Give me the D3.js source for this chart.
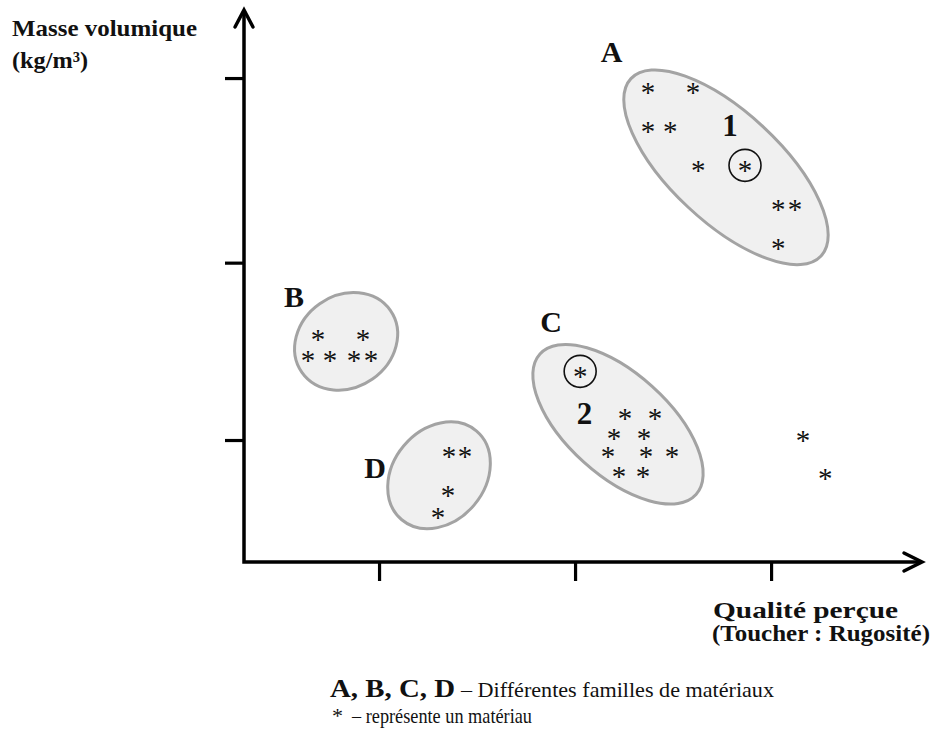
<!DOCTYPE html>
<html><head><meta charset="utf-8">
<script src="https://cdn.jsdelivr.net/npm/d3@7"></script>
<style>html,body{margin:0;padding:0;background:#fff;}svg{display:block;}</style>
</head><body>
<svg id="chart" width="934" height="739"></svg>
<script>
// ---- data (arbitrary units: ticks at 1, 2, 3) ----
const xTicks = [1, 2, 3];
const yTicks = [1, 1.98, 3];
const families = ["A", "B", "C", "D"];
// materials (asterisks) per family
const starsA = [[2.372,2.943],[2.602,2.943],[2.372,2.728],[2.485,2.728],[2.628,2.512],[2.867,2.512],[3.036,2.297],[3.122,2.297],[3.036,2.081]];
const starsB = [[0.689,1.578],[0.918,1.578],[0.638,1.462],[0.750,1.462],[0.872,1.462],[0.959,1.462]];
const starsC = [[2.026,1.374],[2.255,1.142],[2.408,1.142],[2.199,1.031],[2.352,1.031],[2.168,0.932],[2.362,0.932],[2.495,0.932],[2.224,0.822],[2.347,0.822]];
const starsD = [[1.357,0.932],[1.439,0.932],[1.352,0.717],[1.301,0.595]];
const starsOther = [[3.163,1.020],[3.276,0.811]];
// family regions: centre in data units
const familyCentres = [[2.770,2.507],[0.832,1.545],[2.219,1.087],[1.306,0.805]];
// highlighted materials (circled) and their numbers
const highlighted = [[2.867,2.512],[2.026,1.374]];
const highlightLabels = ["1", "2"];
// label anchor positions (data units)
const familyLabelPos = [[2.186,3.087],[0.566,1.733],[1.878,1.595],[0.980,0.790]];
const highlightLabelPos = [[2.791,2.678],[2.048,1.087]];

const xTitle = ["Qualité perçue", "(Toucher : Rugosité)"];
const yTitle = ["Masse volumique", "(kg/m³)"];
const legendLines = [["A, B, C, D", "– Différentes familles de matériaux"], ["*", "– représente un matériau"]];

// ---- layout / style ----
const ellipseShape = [ {a:130,b:55,angle:43}, {a:54,b:46,angle:-35}, {a:105,b:51,angle:42}, {a:58,b:46,angle:-50} ];
const serif = "'Liberation Serif','Times New Roman',serif";

const svg = d3.select("#chart");
const x = d3.scaleLinear().domain([0.311, 3.77]).range([244, 922]);
const y = d3.scaleLinear().domain([0.326, 3.376]).range([562, 10]);

// ellipses
const g = svg.append("g");
g.selectAll("ellipse.fam").data(familyCentres).join("ellipse")
  .attr("class","fam")
  .attr("cx", 0).attr("cy", 0)
  .attr("rx", (d,i)=>ellipseShape[i].a).attr("ry", (d,i)=>ellipseShape[i].b)
  .attr("transform", (d,i)=>`translate(${x(d[0])},${y(d[1])}) rotate(${ellipseShape[i].angle})`)
  .attr("fill", "#f0f0f0").attr("stroke", "#a3a3a3").attr("stroke-width", 3);

// asterisks
const allStars = [].concat(starsA, starsB, starsC, starsD, starsOther);
const starSize = 29;
g.selectAll("text.star").data(allStars).join("text")
  .attr("class","star")
  .attr("x", d=>x(d[0])).attr("y", d=>y(d[1]) + starSize*0.47)
  .attr("text-anchor","middle")
  .attr("font-family", serif).attr("font-size", starSize)
  .attr("fill","#111").text("*");

// circled materials
g.selectAll("circle.hl").data(highlighted).join("circle")
  .attr("class","hl")
  .attr("cx", d=>x(d[0])).attr("cy", d=>y(d[1]) - 1)
  .attr("r", 16).attr("fill","none").attr("stroke","#111").attr("stroke-width",1.6);

// labels
g.selectAll("text.fam").data(familyLabelPos).join("text")
  .attr("class","fam")
  .attr("x", d=>x(d[0])).attr("y", d=>y(d[1]))
  .attr("text-anchor","middle").attr("font-family", serif).attr("font-weight","bold")
  .attr("font-size", 30).attr("fill","#111").text((d,i)=>families[i]);
g.selectAll("text.hlab").data(highlightLabelPos).join("text")
  .attr("class","hlab")
  .attr("x", d=>x(d[0])).attr("y", d=>y(d[1]))
  .attr("text-anchor","middle").attr("font-family", serif).attr("font-weight","bold")
  .attr("font-size", 31).attr("fill","#111").text((d,i)=>highlightLabels[i]);

// axes
const axG = svg.append("g").attr("stroke","#000").attr("stroke-width",3.5).attr("fill","none")
  .attr("stroke-linecap","square");
axG.append("path").attr("d", `M${x(0.311)},${y(3.376)} L${x(0.311)},${y(0.326)} L${x(3.77)},${y(0.326)}`)
  .attr("stroke-linejoin","miter").attr("stroke-linecap","butt");
// arrowheads
const ox = x(0.311), oy = y(0.326), tx = x(3.77), ty = y(3.376);
axG.append("path").attr("d", `M${ox-9},${ty+17} L${ox},${ty} L${ox+9},${ty+17}`).attr("stroke-linejoin","miter").attr("stroke-linecap","round");
axG.append("path").attr("d", `M${tx-18},${oy-9} L${tx},${oy} L${tx-18},${oy+9}`).attr("stroke-linejoin","miter").attr("stroke-linecap","round");

// ticks via d3 axes
const xAxis = svg.append("g").attr("transform", `translate(0,${oy})`)
  .call(d3.axisBottom(x).tickValues(xTicks).tickSize(19).tickFormat(""));
const yAxis = svg.append("g").attr("transform", `translate(${ox},0)`)
  .call(d3.axisLeft(y).tickValues(yTicks).tickSize(19).tickFormat(""));
[xAxis, yAxis].forEach(a=>{
  a.select(".domain").remove();
  a.selectAll(".tick line").attr("stroke","#000").attr("stroke-width",3.2);
});

// axis titles
const yT = svg.append("g").attr("font-family", serif).attr("font-weight","bold").attr("font-size",23).attr("fill","#111");
yT.append("text").attr("x",12).attr("y",36).attr("textLength",185).attr("lengthAdjust","spacingAndGlyphs").text(yTitle[0]);
yT.append("text").attr("x",12).attr("y",68).attr("textLength",76).attr("lengthAdjust","spacingAndGlyphs").text(yTitle[1]);
const xT = svg.append("g").attr("font-family", serif).attr("font-weight","bold").attr("font-size",23).attr("fill","#111");
xT.append("text").attr("x",713).attr("y",618).attr("textLength",185).attr("lengthAdjust","spacingAndGlyphs").text(xTitle[0]);
xT.append("text").attr("x",712).attr("y",641).attr("textLength",218).attr("lengthAdjust","spacingAndGlyphs").text(xTitle[1]);

// legend
const lg = svg.append("g").attr("font-family", serif).attr("fill","#111");
lg.append("text").attr("x",330).attr("y",697).attr("font-weight","bold").attr("font-size",25)
  .attr("textLength",125).attr("lengthAdjust","spacingAndGlyphs").text(legendLines[0][0]);
lg.append("text").attr("x",461).attr("y",697).attr("font-size",21)
  .attr("textLength",313).attr("lengthAdjust","spacingAndGlyphs").text(legendLines[0][1]);
lg.append("text").attr("x",332).attr("y",723).attr("font-size",22).text(legendLines[1][0]);
lg.append("text").attr("x",352).attr("y",723).attr("font-size",21)
  .attr("textLength",180).attr("lengthAdjust","spacingAndGlyphs").text(legendLines[1][1]);
</script>
</body></html>
